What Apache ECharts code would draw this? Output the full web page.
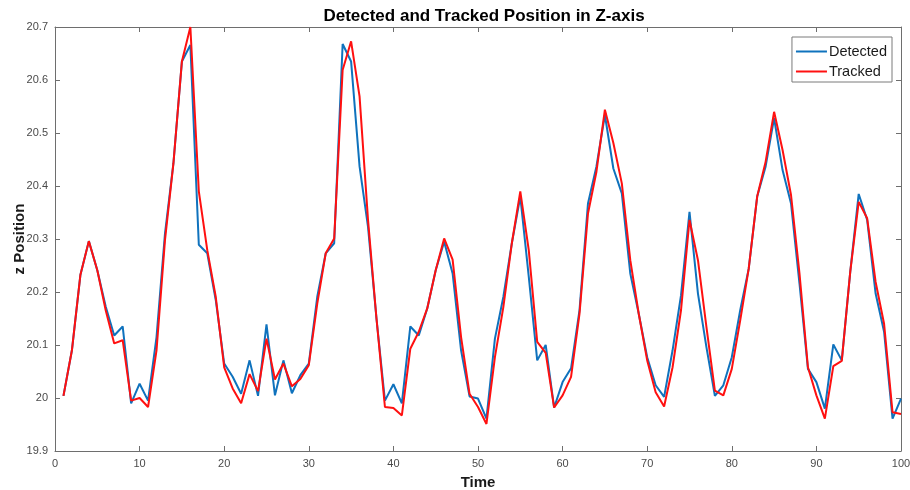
<!DOCTYPE html>
<html>
<head>
<meta charset="utf-8">
<script src="https://cdn.jsdelivr.net/npm/echarts@6/dist/echarts.min.js"></script>
<style>html,body{margin:0;padding:0;background:#fff}#c{width:910px;height:490px}</style>
</head>
<body>
<div id="c"></div>
<script>
const time = [1,2,3,4,5,6,7,8,9,10,11,12,13,14,15,16,17,18,19,20,21,22,23,24,25,26,27,28,29,30,31,32,33,34,35,36,37,38,39,40,41,42,43,44,45,46,47,48,49,50,51,52,53,54,55,56,57,58,59,60,61,62,63,64,65,66,67,68,69,70,71,72,73,74,75,76,77,78,79,80,81,82,83,84,85,86,87,88,89,90,91,92,93,94,95,96,97,98,99,100];
const detected = [20.004,20.09,20.232,20.296,20.241,20.172,20.118,20.135,19.99,20.027,
19.995,20.115,20.31,20.443,20.635,20.666,20.289,20.273,20.185,20.065,
20.04,20.008,20.071,20.004,20.139,20.005,20.071,20.009,20.043,20.065,
20.191,20.273,20.292,20.668,20.635,20.437,20.323,20.15,19.995,20.026,
19.99,20.135,20.118,20.169,20.241,20.295,20.235,20.09,20.003,19.999,
19.961,20.112,20.191,20.292,20.38,20.229,20.071,20.1,19.982,20.03,
20.056,20.166,20.367,20.437,20.534,20.433,20.386,20.235,20.159,20.077,
20.024,20.002,20.09,20.194,20.351,20.197,20.096,20.004,20.024,20.077,
20.166,20.244,20.38,20.437,20.528,20.43,20.367,20.216,20.055,20.03,
19.98,20.101,20.071,20.238,20.385,20.336,20.197,20.125,19.961,19.999];
const tracked = [20.004,20.09,20.232,20.296,20.241,20.165,20.103,20.109,19.995,20.0,
19.983,20.09,20.298,20.443,20.635,20.7,20.39,20.279,20.191,20.058,
20.018,19.99,20.045,20.013,20.112,20.035,20.065,20.022,20.036,20.062,
20.178,20.273,20.301,20.619,20.673,20.569,20.336,20.15,19.983,19.981,
19.967,20.093,20.125,20.169,20.241,20.301,20.261,20.115,20.008,19.983,
19.951,20.077,20.172,20.292,20.39,20.279,20.106,20.085,19.982,20.005,
20.04,20.159,20.348,20.427,20.544,20.481,20.405,20.26,20.159,20.071,
20.011,19.984,20.058,20.166,20.336,20.26,20.134,20.014,20.005,20.055,
20.147,20.244,20.38,20.446,20.54,20.468,20.383,20.235,20.058,20.005,
19.961,20.06,20.07,20.238,20.37,20.339,20.219,20.14,19.973,19.97];
const seriesNames = ['Detected','Tracked'];
const titleText = 'Detected and Tracked Position in Z-axis';
const xName = 'Time';
const yName = 'z Position';

const FONT = '"Liberation Sans", Arial, Helvetica, sans-serif';
const axisCol = '#6e6e6e';
const labelCol = '#4a4a4a';
function pairs(vals){ return time.map((t,i)=>[t, vals[i]]); }
function fmtY(v){ return String(parseFloat(Number(v).toFixed(1))); }

const chart = echarts.init(document.getElementById('c'), null, {renderer:'canvas'});
const baseX = {
  type:'value', min:0, max:100, interval:10,
  axisLine:{show:true, onZero:false, lineStyle:{color:axisCol, width:1}},
  axisTick:{show:true, inside:true, length:5, lineStyle:{color:axisCol}},
  splitLine:{show:false}
};
const baseY = {
  type:'value', min:19.9, max:20.7, interval:0.1,
  axisLine:{show:true, onZero:false, lineStyle:{color:axisCol, width:1}},
  axisTick:{show:true, inside:true, length:5, lineStyle:{color:axisCol}},
  splitLine:{show:false}
};
chart.setOption({
  animation:false,
  backgroundColor:'#fff',
  title:{text:titleText, left:479, textAlign:'center', top:3,
    textStyle:{fontFamily:FONT, fontSize:17, fontWeight:'bold', color:'#000'}},
  grid:{left:55, right:9, top:27, bottom:39, containLabel:false, outerBoundsMode:'none'},
  legend:{
    data:seriesNames, orient:'vertical', right:18, top:37,
    backgroundColor:'#fff', borderColor:'#7a7a7a', borderWidth:1,
    padding:[7,5,3,4], itemGap:5, itemWidth:31, itemHeight:2, icon:'rect',
    textStyle:{fontFamily:FONT, fontSize:14.5, color:'#1a1a1a', padding:[0,0,0,-3]}
  },
  xAxis:[
    Object.assign({}, baseX, {position:'bottom', name:xName, nameLocation:'middle', nameGap:24,
      nameMoveOverlap:false,
      nameTextStyle:{fontFamily:FONT, fontSize:15, fontWeight:'bold', color:'#1a1a1a'},
      axisLabel:{show:true, margin:7, fontFamily:FONT, fontSize:11, color:labelCol}}),
    Object.assign({}, baseX, {position:'top', axisLabel:{show:false}})
  ],
  yAxis:[
    Object.assign({}, baseY, {position:'left', name:yName, nameLocation:'middle', nameGap:28,
      nameMoveOverlap:false,
      nameTextStyle:{fontFamily:FONT, fontSize:15, fontWeight:'bold', color:'#1a1a1a'},
      axisLabel:{show:true, margin:7, fontFamily:FONT, fontSize:11, color:labelCol, formatter:fmtY}}),
    Object.assign({}, baseY, {position:'right', axisLabel:{show:false}})
  ],
  series:[
    {name:seriesNames[0], type:'line', data:pairs(detected), showSymbol:false, symbol:'none',
      lineStyle:{color:'#0f72bd', width:2}, itemStyle:{color:'#0f72bd'}, clip:false, z:2},
    {name:seriesNames[1], type:'line', data:pairs(tracked), showSymbol:false, symbol:'none',
      lineStyle:{color:'#ff1010', width:2}, itemStyle:{color:'#ff1010'}, clip:false, z:3}
  ]
});
</script>
</body>
</html>
